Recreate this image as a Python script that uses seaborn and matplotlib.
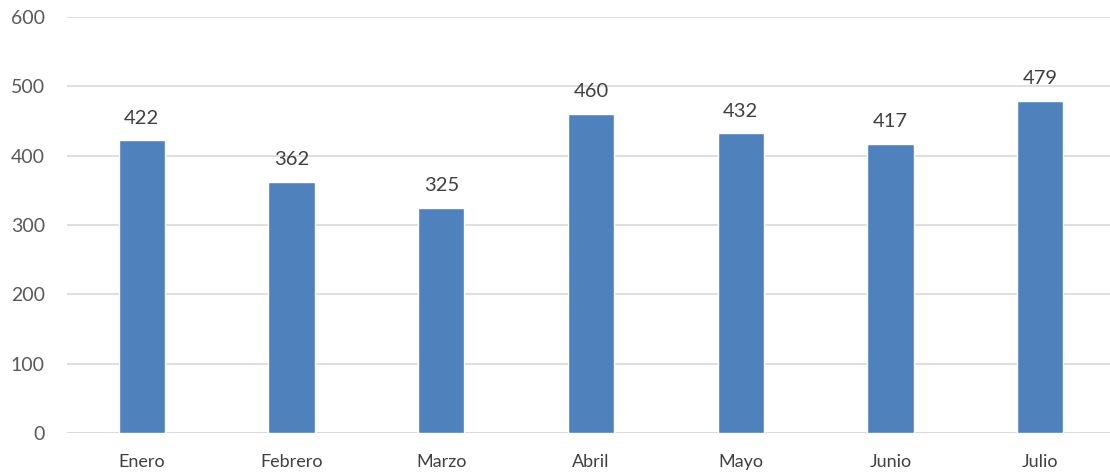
import pandas as pd
import matplotlib.pyplot as plt
import seaborn as sns

meses = ["Enero", "Febrero", "Marzo", "Abril", "Mayo", "Junio", "Julio"]
valores = [422, 362, 325, 460, 432, 417, 479]

df = pd.DataFrame({"mes": meses, "valor": valores})

sns.set_style("white")
plt.rcParams["font.family"] = ["Lato", "DejaVu Sans"]

fig = plt.figure(figsize=(11.1, 4.72), dpi=100)
ax = fig.add_axes([67 / 1110, 39 / 472, 1048 / 1110, 416 / 472])

sns.barplot(data=df, x="mes", y="valor", color="#4F81BD", saturation=1,
            width=0.31, ax=ax, zorder=3)

# etiquetas de datos encima de cada barra
for i, v in enumerate(valores):
    ax.text(i, v + 20, str(v), ha="center", va="bottom",
            fontsize=14.5, color="#404040")

ax.set_ylim(0, 600)
ax.set_xlim(-0.5, 6.5)
ax.set_yticks(range(0, 601, 100))
ax.grid(axis="y", color="#D9D9D9", linewidth=1.2, zorder=0)
ax.set_xlabel("")
ax.set_ylabel("")
sns.despine(ax=ax, left=True, top=True, right=True, bottom=True)
ax.axhline(0, color="#D9D9D9", linewidth=1.2, zorder=1)
ax.tick_params(axis="y", labelsize=14, colors="#595959", length=0, pad=16)
ax.tick_params(axis="x", labelsize=13, colors="#404040", length=0, pad=15)

fig.savefig("out.png", dpi=100)
